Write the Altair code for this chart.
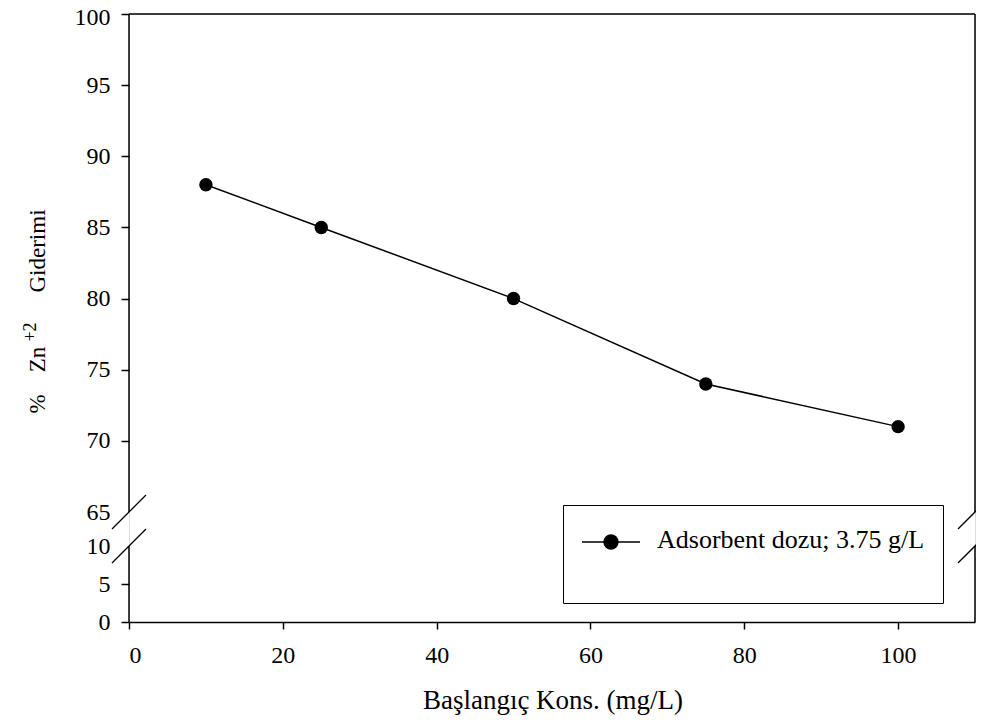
import altair as alt
import pandas as pd

# --- data ---
konsantrasyon = [10, 25, 50, 75, 100]          # mg/L
giderim = [88, 85, 80, 74, 71]                 # % Zn+2 removal
seri_adi = "Adsorbent dozu; 3.75 g/L"
x_ticks = [0, 20, 40, 60, 80, 100]
y_ticks = [0, 5, 10, 65, 70, 75, 80, 85, 90, 95, 100]
x_max = 110
break_low, break_high = 10, 65
y_max = 100
x_title = "Başlangıç Kons. (mg/L)"
y_title_parts = ["%", "Zn", "+2", "Giderimi"]   # "% Zn+2 Giderimi" with superscript +2

FONT = "Liberation Serif"
W, H = 846, 608

df = pd.DataFrame({"x": konsantrasyon, "y": giderim, "seri": [seri_adi] * len(konsantrasyon)})

xscale = alt.Scale(domain=[0, x_max], nice=False, zero=False)
# piecewise (broken) y scale: 0-10 at bottom, 65-100 on top
yscale = alt.Scale(domain=[0, break_low, break_high, y_max],
                   range=[H, H - 76, H - 110, 0], nice=False, zero=False)

# frame segments (broken left/right edges, full top edge)
frame = pd.DataFrame({
    "x":  [0, 0, x_max, x_max, 0],
    "x2": [0, 0, x_max, x_max, x_max],
    "y":  [break_high, 0, break_high, 0, y_max],
    "y2": [y_max, break_low, y_max, break_low, y_max],
})
breaks = pd.DataFrame({"x": [0, 0, x_max, x_max],
                       "y": [break_high, break_low, break_high, break_low]})

legend_path = ("M-1,-0.38L1,-0.38"
               "M0.24,-0.38A0.24,0.24,0,1,1,-0.24,-0.38A0.24,0.24,0,1,1,0.24,-0.38Z"
               "M-1,-1L-1,-1M1,1L1,1")

color = alt.Color(
    "seri:N",
    scale=alt.Scale(range=["black"]),
    legend=alt.Legend(
        title=None, orient="none", legendX=434, legendY=491,
        symbolType=legend_path, symbolSize=3364, symbolStrokeWidth=1.4,
        symbolFillColor="black", symbolStrokeColor="black", symbolOpacity=1,
        labelFont=FONT, labelFontSize=26, labelColor="black", labelOffset=16,
        labelBaseline="bottom", labelLimit=400,
        padding=18, strokeColor="black",
    ),
)

x_enc = alt.X("x:Q", scale=xscale, axis=alt.Axis(
    values=x_ticks, title=x_title, grid=False,
    domainColor="black", domainWidth=1.5, tickColor="black", tickWidth=1.5, tickSize=7,
    labelFont=FONT, labelFontSize=24, labelColor="black", labelPadding=14,
    titleFont=FONT, titleFontSize=27, titleFontWeight="normal", titleColor="black",
    titleX=423.5, titleY=86, titleBaseline="alphabetic", titleAlign="center",
))
y_enc = alt.Y("y:Q", scale=yscale, axis=alt.Axis(
    values=y_ticks, title=None, grid=False, domain=False,
    tickColor="black", tickWidth=1.5, tickSize=8,
    tickOpacity={"condition": {"test": "datum.value == 10 || datum.value == 65", "value": 0}, "value": 1},
    labelOffset={"condition": {"test": "datum.value == 100", "value": 3}, "value": 0},
    labelFont=FONT, labelFontSize=24, labelColor="black", labelPadding=11,
))

line = alt.Chart(df).mark_line(strokeWidth=1.5, opacity=1).encode(x=x_enc, y=y_enc, color=color)
points = alt.Chart(df).mark_point(filled=True, size=180, opacity=1, shape="circle").encode(
    x=alt.X("x:Q", scale=xscale), y=alt.Y("y:Q", scale=yscale), color=color)

frame_rules = alt.Chart(frame).mark_rule(color="black", strokeWidth=1.5).encode(
    x=alt.X("x:Q", scale=xscale), x2="x2:Q",
    y=alt.Y("y:Q", scale=yscale), y2="y2:Q")

break_marks = alt.Chart(breaks).mark_rule(
    color="black", strokeWidth=1.3, xOffset=-17, yOffset=17, x2Offset=17, y2Offset=-17
).encode(
    x=alt.X("x:Q", scale=xscale), x2="x:Q",
    y=alt.Y("y:Q", scale=yscale), y2="y:Q")

# y-axis title assembled from pieces so that "+2" can be a real superscript
def title_piece(txt, x, y, size):
    return alt.Chart(pd.DataFrame({"t": [txt]})).mark_text(
        font=FONT, fontSize=size, color="black", angle=270,
        align="center", baseline="alphabetic",
    ).encode(text="t:N", x=alt.value(x), y=alt.value(y))

y_title = alt.layer(
    title_piece(y_title_parts[0], -84, 390, 23),
    title_piece(y_title_parts[1], -84, 345.5, 23),
    title_piece(y_title_parts[2], -93, 318, 18),
    title_piece(y_title_parts[3], -84, 237, 23),
)

chart = alt.layer(frame_rules, break_marks, line, points, y_title).properties(
    width=W, height=H,
    autosize=alt.AutoSizeParams(type="none"),
    padding={"left": 121, "top": 6, "right": 1, "bottom": 93},
).configure_view(stroke=None).configure_axis(
    labelFont=FONT, titleFont=FONT
).configure_legend(strokeWidth=1.5).configure(background="white")

chart.save("out.html", embed_options={"renderer": "svg", "actions": False})
